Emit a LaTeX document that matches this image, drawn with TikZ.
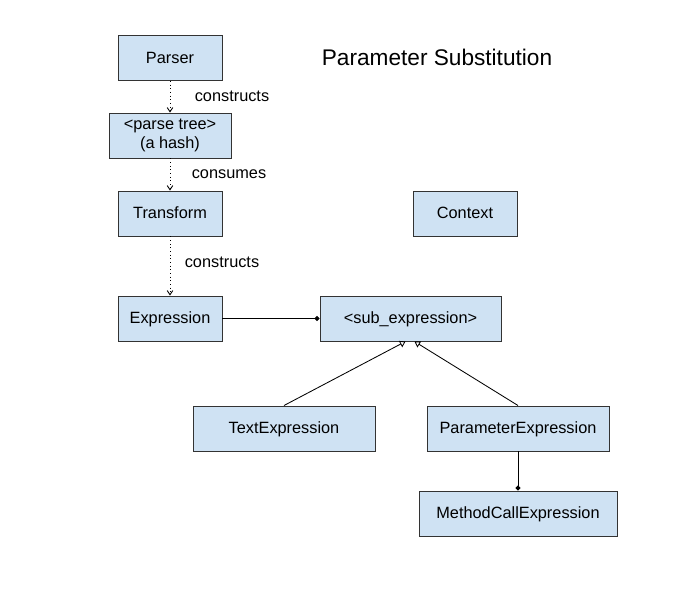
\documentclass[tikz,border=0pt]{standalone}
\usepackage{fontspec}
\setmainfont{Liberation Sans}
\usetikzlibrary{arrows.meta}

\definecolor{boxblue}{HTML}{CFE2F3}
\definecolor{boxline}{HTML}{333333}

\tikzset{
  cls/.style={draw=boxline, fill=boxblue, line width=0.7pt, minimum height=45*0.025cm,
    inner sep=0pt, font=\fontsize{11.6}{13.5}\selectfont, align=center},
  oneline/.style={cls, text height=0.93em, text depth=0.2em},
  lbl/.style={font=\fontsize{11.6}{13}\selectfont},
  makes/.style={dotted, line width=0.6pt, -{Straight Barb[length=3pt,width=4pt]}},
  isa/.style={line width=0.6pt, -{Triangle[open,length=4pt,width=5pt]}},
  has/.style={line width=0.7pt, -{Circle[length=3.5pt]}}
}

\begin{document}
\begin{tikzpicture}[x=0.025cm, y=-0.025cm]
        \useasboundingbox (0,0) rectangle (692,612);
        % title
        \node (title) at (437,57) {\fontsize{16.1}{19}\selectfont Parameter Substitution};

        % pipeline
        \node[oneline, minimum width=104*0.025cm] (parser) at (170,58) {Parser};
        \node[cls, minimum width=122*0.025cm] (tree) at (170,135.5) {<parse tree>\\(a hash)};
        \node[oneline, minimum width=104*0.025cm] (transform) at (170,213.5) {Transform};
        \node[oneline, minimum width=104*0.025cm] (expr) at (170,318.5) {Expression};
        \node[oneline, minimum width=104*0.025cm] (context) at (465,213.5) {Context};

        % expression classes
        \node[oneline, minimum width=181*0.025cm] (sub) at (410.5,318.5) {<sub\_expression>};
        \node[oneline, minimum width=182*0.025cm] (text) at (284,428.5) {TextExpression};
        \node[oneline, minimum width=182*0.025cm] (param) at (518,428.5) {ParameterExpression};
        \node[oneline, minimum width=198*0.025cm] (call) at (518,513.5) {MethodCallExpression};

        \draw [makes] (parser) -- (tree);
        \draw [makes] (tree) -- (transform);
        \draw [makes] (transform) -- (expr);
        \node[lbl] (l1) at (232,96) {constructs};
        \node[lbl] (l2) at (229,174) {consumes};
        \node[lbl] (l3) at (222,262) {constructs};

        \draw [has] (expr) -- (sub);
        \draw [isa] (text.north) -- ([xshift=-5*0.025cm]sub.south);
        \draw [isa] (param.north) -- ([xshift=4*0.025cm]sub.south);
        \draw [has] (param) -- (call);
     \end{tikzpicture}
\end{document}
